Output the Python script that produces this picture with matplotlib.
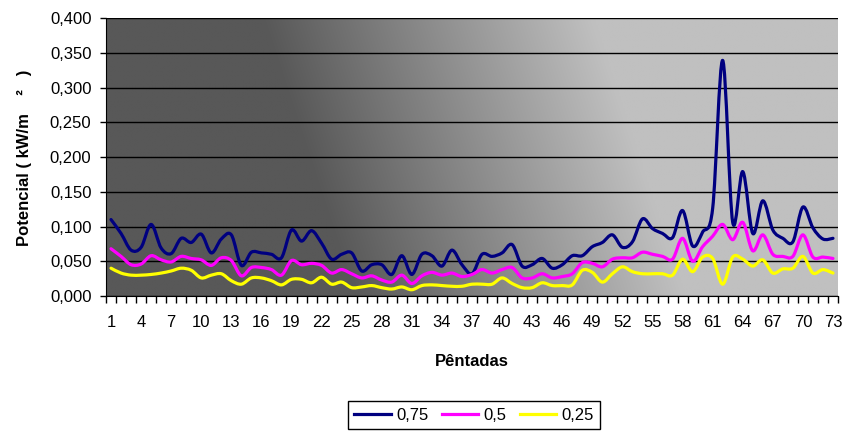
import matplotlib
matplotlib.use("Agg")
import matplotlib.pyplot as plt
import numpy as np
from matplotlib.path import Path
from matplotlib.patches import PathPatch
from matplotlib.lines import Line2D

plt.rcParams['font.family'] = ['Liberation Sans', 'DejaVu Sans']

# pentads 1..73
pentadas = list(range(1, 74))

serie_075 = [0.110, 0.090, 0.066, 0.070, 0.103, 0.069, 0.061, 0.083, 0.077, 0.089, 0.062, 0.082,
             0.088, 0.044, 0.063, 0.062, 0.060, 0.055, 0.095, 0.079, 0.094, 0.076, 0.053, 0.060,
             0.062, 0.036, 0.045, 0.045, 0.031, 0.058, 0.031, 0.060, 0.058, 0.043, 0.066, 0.045,
             0.032, 0.060, 0.057, 0.062, 0.074, 0.043, 0.045, 0.054, 0.040, 0.045, 0.058, 0.058,
             0.071, 0.077, 0.088, 0.070, 0.078, 0.111, 0.097, 0.090, 0.084, 0.123, 0.072, 0.092,
             0.126, 0.339, 0.106, 0.179, 0.090, 0.137, 0.095, 0.083, 0.078, 0.128, 0.098, 0.082,
             0.083]

serie_05 = [0.068, 0.057, 0.045, 0.046, 0.058, 0.052, 0.049, 0.057, 0.054, 0.052, 0.044, 0.055,
            0.051, 0.029, 0.041, 0.041, 0.038, 0.030, 0.051, 0.045, 0.047, 0.044, 0.033, 0.038,
            0.032, 0.026, 0.029, 0.023, 0.020, 0.030, 0.018, 0.029, 0.034, 0.030, 0.033, 0.028,
            0.031, 0.038, 0.033, 0.038, 0.041, 0.026, 0.026, 0.032, 0.026, 0.028, 0.032, 0.048,
            0.047, 0.042, 0.053, 0.055, 0.055, 0.063, 0.060, 0.057, 0.053, 0.083, 0.050, 0.071,
            0.086, 0.103, 0.081, 0.106, 0.065, 0.088, 0.060, 0.057, 0.057, 0.088, 0.056, 0.056,
            0.054]

serie_025 = [0.040, 0.033, 0.030, 0.030, 0.031, 0.033, 0.036, 0.040, 0.037, 0.026, 0.030, 0.032,
             0.022, 0.017, 0.026, 0.026, 0.022, 0.016, 0.024, 0.024, 0.019, 0.027, 0.017, 0.020,
             0.012, 0.013, 0.015, 0.012, 0.010, 0.013, 0.009, 0.015, 0.016, 0.015, 0.014, 0.014,
             0.017, 0.017, 0.017, 0.026, 0.018, 0.012, 0.012, 0.019, 0.015, 0.015, 0.016, 0.037,
             0.034, 0.020, 0.032, 0.042, 0.035, 0.032, 0.032, 0.032, 0.030, 0.053, 0.035, 0.056,
             0.054, 0.017, 0.056, 0.053, 0.043, 0.052, 0.033, 0.039, 0.040, 0.057, 0.033, 0.038,
             0.033]

series = [("0,75", serie_075, "#000080"),
          ("0,5", serie_05, "#FF00FF"),
          ("0,25", serie_025, "#FFFF00")]

yticks = [0.0, 0.05, 0.10, 0.15, 0.20, 0.25, 0.30, 0.35, 0.40]
xlabels = list(range(1, 74, 3))


def smooth_path(x, y):
    # Excel-style smoothed line: Catmull-Rom segments as cubic Bezier
    p = np.column_stack([x, y]).astype(float)
    ext = np.vstack([p[0], p, p[-1]])
    verts = [p[0]]
    codes = [Path.MOVETO]
    for i in range(len(p) - 1):
        p0, p1, p2, p3 = ext[i], ext[i + 1], ext[i + 2], ext[i + 3]
        verts += [p1 + (p2 - p0) / 6, p2 - (p3 - p1) / 6, p2]
        codes += [Path.CURVE4] * 3
    return Path(verts, codes)


fig = plt.figure(figsize=(8.45, 4.32), dpi=100)
ax = fig.add_axes([106 / 845, 1 - 296 / 432, 732 / 845, 278 / 432])

# diagonal gray gradient behind the plot area
h, w = 140, 370
u = (np.arange(w) + 0.5) / w
v = (np.arange(h) + 0.5) / h
U, V = np.meshgrid(u, v)
px = 106 + U * 732
py = V * 278
t = np.clip((px - 0.33 * py - 262) / (593 - 262), 0, 1)
dark, light = 0x58, 0xC0
g = (dark + t * (light - dark)) / 255
img = np.dstack([g, g, g])
ax.imshow(img, extent=(0, 1, 0, 1), transform=ax.transAxes, aspect='auto',
          interpolation='bilinear', zorder=0)

handles = []
for name, vals, col in series:
    ax.add_patch(PathPatch(smooth_path(pentadas, vals), fill=False, edgecolor=col,
                           lw=2.3, zorder=3, joinstyle='round', capstyle='round'))
    handles.append(Line2D([], [], color=col, lw=2.3, label=name))

ax.set_xlim(0.5, 73.5)
ax.set_ylim(0, 0.4)
ax.set_aspect('auto')

ax.set_yticks(yticks)
ax.set_yticklabels([f"{y:.3f}".replace('.', ',') for y in yticks], fontsize=12)
ax.yaxis.grid(True, color='black', lw=1.0)
ax.set_axisbelow(True)
ax.tick_params(axis='y', length=4.5, width=1, pad=6, colors='black')

ax.set_xticks(np.arange(0.5, 74, 1))
ax.set_xticklabels([])
ax.set_xticks(xlabels, minor=True)
ax.set_xticklabels([str(x) for x in xlabels], minor=True, fontsize=12)
ax.tick_params(axis='x', which='major', length=5, width=1, direction='out')
ax.tick_params(axis='x', which='minor', length=0, pad=14)

for s in ['top', 'right']:
    ax.spines[s].set_visible(False)
ax.spines['left'].set_color('black')
ax.spines['bottom'].set_color('black')

fig.text(472 / 845, 1 - 361 / 432, "Pêntadas", fontsize=12, fontweight='bold',
         ha='center', va='center')
fig.text(25 / 845, 1 - 158 / 432, "Potencial ( kW/m    ²   )", fontsize=12,
         fontweight='bold', rotation=90, ha='center', va='center')

leg = ax.legend(handles=handles, loc='center', bbox_to_anchor=(474 / 845, 1 - 415 / 432),
                bbox_transform=fig.transFigure, ncol=3, fontsize=12,
                handlelength=2.2, handletextpad=0.3, columnspacing=0.8,
                fancybox=False, framealpha=1, edgecolor='black', borderpad=0.4)
leg.get_frame().set_linewidth(1.0)

fig.savefig("out.png", dpi=100)
